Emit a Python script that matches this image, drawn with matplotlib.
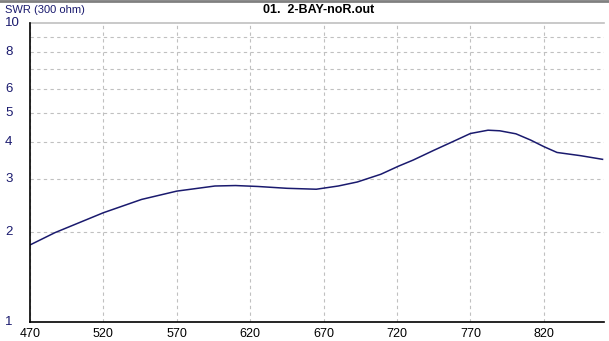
#!/usr/bin/env python3
"""SWR (300 ohm) vs frequency for 2-BAY-noR, log y axis."""
import matplotlib
matplotlib.use("Agg")
import matplotlib.pyplot as plt
from matplotlib.lines import Line2D
from matplotlib.transforms import blended_transform_factory

# data
freq = [470, 487, 520, 546, 570, 596, 610, 625, 645, 665, 680, 693, 709, 721,
        731, 745, 757, 770, 782, 790, 801, 811, 820, 829, 845, 860]
swr = [1.81, 1.99, 2.32, 2.57, 2.74, 2.85, 2.86, 2.84, 2.80, 2.78, 2.85, 2.94,
       3.12, 3.32, 3.48, 3.75, 3.99, 4.27, 4.38, 4.36, 4.26, 4.06, 3.86, 3.69,
       3.60, 3.50]
x_ticks = [470, 520, 570, 620, 670, 720, 770, 820]
y_grid = [2, 3, 4, 5, 6, 7, 8, 9]
y_labels = [1, 2, 3, 4, 5, 6, 8, 10]

W, H = 609, 341
NAVY = "#1a1a6e"
GRID = "#c0c0c0"

plt.rcParams["font.family"] = ["Liberation Sans", "DejaVu Sans"]

fig = plt.figure(figsize=(W / 100, H / 100), dpi=100)
fig.patch.set_facecolor("white")
ax = fig.add_axes([30 / W, (H - 322) / H, (604 - 30) / W, (322 - 23) / H])

ax.plot(freq, swr, color=NAVY, linewidth=1.1)

ax.set_yscale("log")
ax.set_ylim(1, 10)
ax.set_xlim(470, 861)

ax.set_yticks(y_grid, minor=False)
ax.set_yticks([], minor=True)
ax.set_yticklabels([])
ax.set_xticks(x_ticks)
ax.set_xticklabels([str(v) for v in x_ticks], fontsize=9)
ax.tick_params(axis="both", length=0, pad=4)
ax.tick_params(axis="x", colors="black")

ax.grid(True, color=GRID, linestyle=(0, (3, 3)), linewidth=0.8)
ax.axhline(10, color=GRID, linewidth=1.2, clip_on=False)

for s in ("top", "right"):
    ax.spines[s].set_visible(False)
for s in ("left", "bottom"):
    ax.spines[s].set_color("black")
    ax.spines[s].set_linewidth(1.2)

tr = blended_transform_factory(fig.transFigure, ax.transData)
for v in y_labels:
    ax.text(5 / W, v, str(v), transform=tr, ha="left", va="center",
            fontsize=9.5, color=NAVY)

fig.text(5 / W, 1 - 10 / H, "SWR (300 ohm)", ha="left", va="center",
         fontsize=8, color=NAVY)
fig.text(319 / W, 1 - 10 / H, "01.  2-BAY-noR.out", ha="center", va="center",
         fontsize=9, fontweight="bold", color="black")

# grey window border at the top
fig.add_artist(Line2D([0, 1], [1 - 1 / H, 1 - 1 / H], transform=fig.transFigure,
                      color="#808080", linewidth=2))

fig.savefig("out.png", dpi=100)
